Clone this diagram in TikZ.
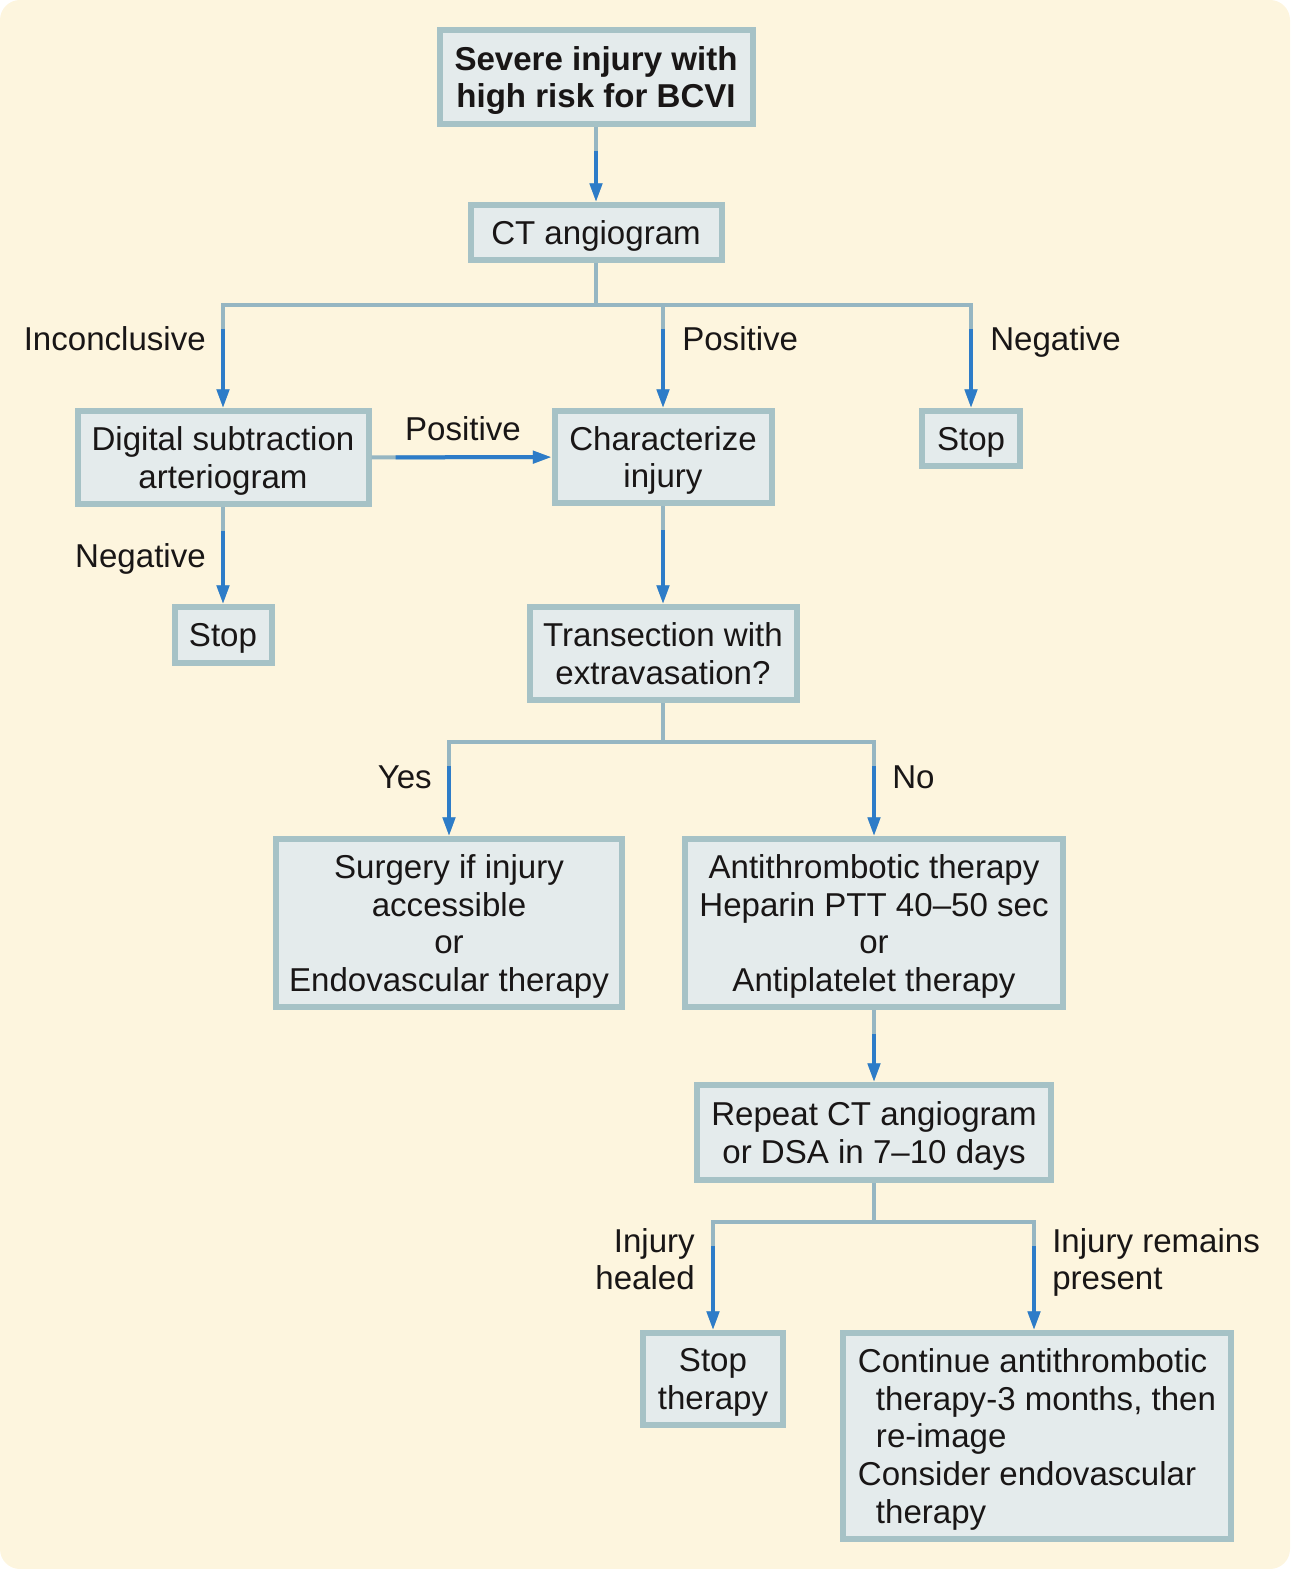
\documentclass[tikz,border=0pt]{standalone}
\usepackage{fontspec}
\setmainfont{Liberation Sans}
\usetikzlibrary{arrows.meta}

\definecolor{bgcream}{RGB}{253,245,222}
\definecolor{boxfill}{RGB}{228,235,236}
\definecolor{boxedge}{RGB}{166,194,198}
\definecolor{stemgray}{RGB}{150,182,194}
\definecolor{flowblue}{RGB}{45,124,200}
\definecolor{inkblack}{RGB}{25,22,22}

\begin{document}
\begin{tikzpicture}[x=0.75pt,y=-0.75pt,>={Triangle[width=9pt,length=14pt]},
  every node/.style={font=\fontsize{24.8pt}{28.3pt}\selectfont,text=inkblack},
  box/.style={draw=boxedge,line width=4.5pt,fill=boxfill,align=center,inner sep=3pt,text depth=-1pt},
  lab/.style={inner sep=0pt},
  stem/.style={draw=stemgray,line width=3pt},
  flow/.style={stem,->,postaction={draw=flowblue,shorten <=18pt}}]
\useasboundingbox (0,0) rectangle (1290,1569);
\fill[bgcream,rounded corners=15pt] (0,0) rectangle (1290,1569);

% boxes
\node[box,minimum width=234.75pt,minimum height=70.5pt,font=\fontsize{24.8pt}{28.3pt}\selectfont\bfseries] (risk) at (596,77) {Severe injury with\\high risk for BCVI};
\node[box,minimum width=188.25pt,minimum height=41.25pt] (cta) at (596,232.5) {CT angiogram};
\node[box,minimum width=218.25pt,minimum height=69.75pt] (dsa) at (223,457.5) {Digital subtraction\\arteriogram};
\node[box,minimum width=162.75pt,minimum height=69pt] (charz) at (663,457) {Characterize\\injury};
\node[box,minimum width=73.5pt,minimum height=41.25pt] (stopneg) at (971,438.5) {Stop};
\node[box,minimum width=72.75pt,minimum height=42pt] (stopdsa) at (223,635) {Stop};
\node[box,minimum width=200.25pt,minimum height=69.75pt] (trans) at (663,653.5) {Transection with\\extravasation?};
\node[box,minimum width=259.5pt,minimum height=126pt] (surg) at (449,923) {Surgery if injury\\accessible\\or\\Endovascular therapy};
\node[box,minimum width=283.5pt,minimum height=126pt] (anti) at (874,923) {Antithrombotic therapy\\Heparin PTT 40--50 sec\\or\\Antiplatelet therapy};
\node[box,minimum width=265.5pt,minimum height=71.25pt] (repeat) at (874,1132.5) {Repeat CT angiogram\\or DSA in 7--10 days};
\node[box,minimum width=105pt,minimum height=69pt] (stopther) at (713,1379) {Stop\\therapy};
\node[box,minimum width=291pt,minimum height=154.5pt,align=left] (cont) at (1037,1436) {Continue antithrombotic\\\hspace*{13.5pt}therapy-3 months, then\\\hspace*{13.5pt}re-image\\Consider endovascular\\\hspace*{13.5pt}therapy};

% branch points
\coordinate (b1) at (596,305);
\coordinate (b1l) at (223,305);
\coordinate (b1m) at (663,305);
\coordinate (b1r) at (971,305);
\coordinate (b2) at (663,742);
\coordinate (b2l) at (449,742);
\coordinate (b2r) at (874,742);
\coordinate (b3) at (874,1222);
\coordinate (b3l) at (713,1222);
\coordinate (b3r) at (1034,1222);

% connectors
\draw[flow] (risk) -- (cta);
\draw[stem] (cta) -- (b1);
\draw[stem,line cap=rect] (b1l) -- (b1r);
\draw[flow] (b1l) -- (dsa);
\draw[flow] (b1m) -- (charz);
\draw[flow] (b1r) -- (stopneg);
\draw[flow] (dsa) -- (charz);
\draw[flow] (dsa) -- (stopdsa);
\draw[flow] (charz) -- (trans);
\draw[stem] (trans) -- (b2);
\draw[stem,line cap=rect] (b2l) -- (b2r);
\draw[flow] (b2l) -- (surg);
\draw[flow] (b2r) -- (anti);
\draw[flow] (anti) -- (repeat);
\draw[stem] (repeat) -- (b3);
\draw[stem,line cap=rect] (b3l) -- (b3r);
\draw[flow] (b3l) -- (stopther);
\draw[flow] (b3r) -- (b3r |- cont.north);

% labels
\node[lab,anchor=base east] (linc) at (206,350) {Inconclusive};
\node[lab,anchor=base west] (lpos) at (682,350) {Positive};
\node[lab,anchor=base west] (lneg) at (990,350) {Negative};
\node[lab,anchor=base] (ldsapos) at (463,440) {Positive};
\node[lab,anchor=base east] (ldsaneg) at (206,567) {Negative};
\node[lab,anchor=base east] (lyes) at (432,788) {Yes};
\node[lab,anchor=base west] (lno) at (892,788) {No};
\node[lab,anchor=north east,align=right] (lheal) at (695,1228) {Injury\\healed};
\node[lab,anchor=north west,align=left] (lrem) at (1052,1228) {Injury remains\\present};
\end{tikzpicture}
\end{document}
